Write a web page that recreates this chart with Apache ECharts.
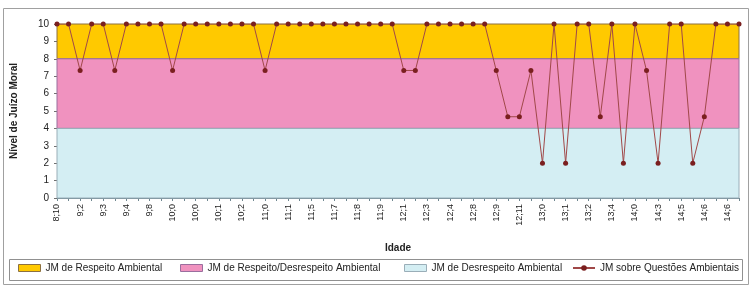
<!DOCTYPE html>
<html>
<head>
<meta charset="utf-8">
<script src="https://cdn.jsdelivr.net/npm/echarts@6/dist/echarts.min.js"></script>
<style>
  html, body { margin: 0; padding: 0; background: #fff; }
  #chart { width: 752px; height: 286px; }
</style>
</head>
<body>
<div id="chart"></div>
<script>
// Data
// ages shown under every second point (the others have no label)
const tickLabels = ['8;10', '9;2', '9;3', '9;4', '9;8', '10;0', '10;0', '10;1', '10;2', '11;0',
  '11;1', '11;5', '11;7', '11;8', '11;9', '12;1', '12;3', '12;4', '12;8', '12;9',
  '12;11', '13;0', '13;1', '13;2', '13;4', '14;0', '14;3', '14;5', '14;6', '14;6'];

// moral judgement level for each of the 60 answers
const juizoMoral = [
  10, 10, 7.33, 10, 10, 7.33, 10, 10, 10, 10,
  7.33, 10, 10, 10, 10, 10, 10, 10, 7.33, 10,
  10, 10, 10, 10, 10, 10, 10, 10, 10, 10,
  7.33, 7.33, 10, 10, 10, 10, 10, 10, 7.33, 4.67,
  4.67, 7.33, 2, 10, 2, 10, 10, 4.67, 10, 2,
  10, 7.33, 2, 10, 10, 2, 4.67, 10, 10, 10];

// band limits: respeito 8-10, respeito/desrespeito 4-8, desrespeito 0-4
const bandNames = ['JM de Respeito Ambiental', 'JM de Respeito/Desrespeito Ambiental', 'JM de Desrespeito Ambiental'];
const bandFrom = [8, 4, 0];
const bandTo = [10, 8, 4];
const lineName = 'JM sobre Questões Ambientais';

// Style
const bandColors = ['#FFC900', '#F092BF', '#D4EEF3'];
const bandBorders = ['#8C7040', '#9A6E9E', '#9AAEB8'];
const fontFamily = '"Liberation Sans", Arial, sans-serif';
const legendLefts = [18, 180, 404, 572];

// categories: label on even points, blank on odd ones
const categories = [];
tickLabels.forEach(label => {
  categories.push(label);
  categories.push('');
});

const chart = echarts.init(document.getElementById('chart'), null, { renderer: 'canvas' });

const bandSeries = bandNames.map((name, i) => ({
  name: name,
  type: 'line',
  data: [],
  color: bandColors[i],
  z: 1,
  markArea: {
    silent: true,
    itemStyle: { color: bandColors[i], borderColor: bandBorders[i], borderWidth: 1 },
    data: [[{ yAxis: bandFrom[i] }, { yAxis: bandTo[i] }]],
  },
}));

// one legend per entry so each sits where it does in the original
const legendNames = [...bandNames, lineName];
const legends = legendNames.map((name, i) => ({
  left: legendLefts[i],
  top: 263,
  padding: 0,
  itemWidth: i < 3 ? 22 : 22,
  itemHeight: 7,
  itemGap: 4,
  textStyle: { fontSize: 10, color: '#222', fontFamily: fontFamily },
  data: [i < 3
    ? { name: name, icon: 'rect', itemStyle: { borderColor: bandBorders[i], borderWidth: 1 } }
    : { name: name }],
}));

const options = {
  animation: false,
  textStyle: { fontFamily: fontFamily },
  grid: { left: 57, right: 13, top: 24, bottom: 88 },
  graphic: [
    { // outer frame
      type: 'rect', shape: { x: 3.5, y: 8.5, width: 745, height: 276 },
      style: { fill: 'none', stroke: '#A0A0A0', lineWidth: 1 }, silent: true, z: -1,
    },
    { // legend frame
      type: 'rect', shape: { x: 9.5, y: 259.5, width: 733, height: 21 },
      style: { fill: 'none', stroke: '#909090', lineWidth: 1 }, silent: true, z: -1,
    },
  ],
  legend: legends,
  xAxis: {
    type: 'category',
    data: categories,
    boundaryGap: false,
    name: 'Idade',
    nameLocation: 'middle',
    nameGap: 45,
    nameTextStyle: { fontSize: 10, fontWeight: 'bold', color: '#222' },
    axisLine: { lineStyle: { color: '#6F8790', width: 1 } },
    axisTick: { interval: 0, length: 3, lineStyle: { color: '#6F8790' } },
    axisLabel: { interval: 0, rotate: 90, fontSize: 9, color: '#222', margin: 6 },
    splitLine: { show: false },
  },
  yAxis: {
    type: 'value',
    min: 0,
    max: 10,
    interval: 1,
    name: 'Nível de Juízo Moral',
    nameLocation: 'middle',
    nameGap: 38,
    nameTextStyle: { fontSize: 10, fontWeight: 'bold', color: '#222' },
    axisLine: { show: true, lineStyle: { color: '#707070', width: 1 } },
    axisTick: { show: true, length: 3, lineStyle: { color: '#707070' } },
    axisLabel: { fontSize: 10, color: '#222', margin: 8 },
    splitLine: { show: false },
  },
  series: [
    ...bandSeries,
    {
      name: lineName,
      type: 'line',
      data: juizoMoral,
      z: 5,
      color: '#7A1F1F',
      symbol: 'circle',
      symbolSize: 5,
      showAllSymbol: true,
      lineStyle: { color: '#A04848', width: 1 },
      itemStyle: { color: '#7A1F1F' },
    },
  ],
};

chart.setOption(options);
</script>
</body>
</html>
